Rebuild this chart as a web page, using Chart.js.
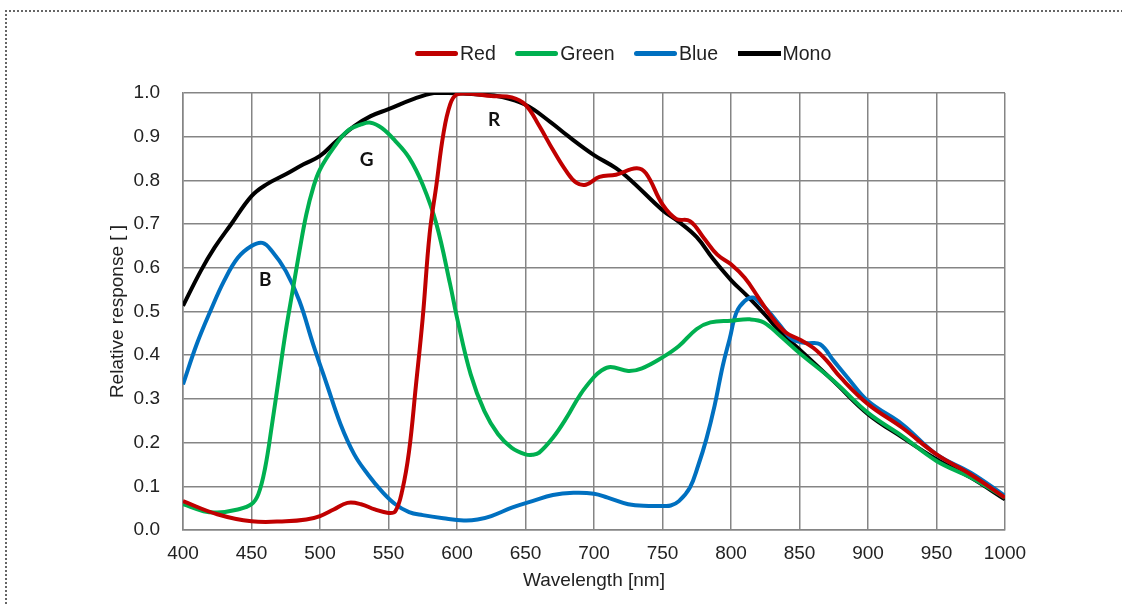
<!DOCTYPE html>
<html>
<head>
<meta charset="utf-8">
<script src="https://cdn.jsdelivr.net/npm/chart.js@4/dist/chart.umd.min.js"></script>
<style>
  html, body { margin: 0; padding: 0; background: #fff; }
  #wrap { position: relative; width: 1122px; height: 604px; overflow: hidden; }
  #frame { position: absolute; left: 5px; top: 10px; width: 1140px; height: 620px;
           border-left: 2px dotted #666; border-top: 2px dotted #666; }
  #legend { position: absolute; left: 415px; top: 42px; display: flex; gap: 19.5px;
            font: 19.5px "Liberation Sans", Arial, sans-serif; color: #222; }
  .item { display: flex; align-items: center; }
  .sw { width: 43px; height: 5px; margin-right: 2px; border-radius: 3px; }
</style>
</head>
<body>
<div id="wrap">
  <div id="frame"></div>
  <canvas id="c"></canvas>
  <div id="legend"></div>
</div>
<script>
// Red
const redNm  = [400,425,450,475,490,500,510,520,530,540,550,555,560,565,570,575,580,585,590,595,600,610,625,640,650,660,670,680,687,694,704,716,731,738,750,760,770,780,790,800,810,820,830,840,850,860,870,880,900,925,950,975,1000];
const redVal = [.066,.036,.02,.02,.024,.032,.047,.062,.059,.047,.039,.043,.09,.18,.33,.486,.677,.79,.905,.974,.997,.998,.993,.99,.973,.925,.87,.82,.795,.79,.808,.813,.828,.816,.745,.712,.707,.669,.63,.608,.577,.532,.486,.452,.436,.417,.387,.349,.288,.234,.173,.127,.074];
// Green
const greenNm  = [400,415,425,440,450,455,460,465,470,475,480,485,490,495,500,510,520,530,537,545,555,565,575,585,595,600,610,620,630,640,650,655,660,670,680,690,700,705,712,725,735,750,762,775,785,800,814,824,836,850,875,900,925,950,975,1000];
const greenVal = [.059,.043,.04,.047,.059,.082,.143,.242,.349,.455,.547,.638,.722,.783,.825,.875,.913,.928,.932,.92,.89,.852,.79,.70,.562,.486,.356,.272,.219,.188,.173,.172,.177,.211,.257,.31,.35,.364,.373,.364,.37,.395,.421,.46,.475,.479,.482,.475,.444,.405,.341,.268,.215,.158,.12,.074];
// Blue
const blueNm  = [400,410,420,430,440,450,458,465,475,485,495,505,515,525,535,545,555,565,575,590,605,615,625,640,655,670,685,700,710,725,740,750,756,762,770,776,782,788,794,799,804,810,816,822,828,835,845,855,865,875,885,900,925,950,975,1000];
const blueVal = [.333,.425,.501,.57,.623,.65,.657,.638,.593,.524,.425,.333,.242,.173,.127,.089,.059,.041,.034,.027,.022,.024,.032,.051,.066,.08,.085,.083,.074,.059,.055,.055,.056,.066,.097,.147,.208,.284,.376,.437,.498,.524,.532,.517,.498,.471,.436,.428,.425,.387,.349,.295,.242,.173,.131,.078];
// Mono
const monoNm  = [400,413,423,435,450,461,475,488,500,512,525,537,550,568,583,593,604,618,631,650,668,680,700,716,728,750,762,775,787,800,812,825,837,850,875,900,925,950,975,1000];
const monoVal = [.513,.593,.646,.699,.764,.791,.814,.837,.856,.89,.924,.947,.963,.986,1.0,1.0,.999,.996,.992,.973,.934,.904,.858,.828,.797,.732,.705,.67,.62,.572,.535,.492,.45,.413,.34,.265,.212,.162,.12,.07];

const seriesNames  = ['Red', 'Green', 'Blue', 'Mono'];
const seriesColors = ['#c00000', '#00b050', '#0070c0', '#000000'];

// curve labels inside plot (text, wavelength, response)
const curveLabels = [['B', 460, 0.572], ['G', 534, 0.847], ['R', 627, 0.938]];

const pts = (xs, ys) => xs.map((x, i) => ({ x, y: ys[i] }));
const seriesData = [pts(redNm, redVal), pts(greenNm, greenVal), pts(blueNm, blueVal), pts(monoNm, monoVal)];

// legend
const leg = document.getElementById('legend');
seriesNames.forEach((n, i) => {
  leg.insertAdjacentHTML('beforeend',
    `<div class="item"><div class="sw" style="background:${seriesColors[i]};${i === 3 ? 'border-radius:0' : ''}"></div><span>${n}</span></div>`);
});

const labelPlugin = {
  id: 'curveLabels',
  afterDatasetsDraw(chart) {
    const { ctx, scales: { x, y } } = chart;
    ctx.save();
    ctx.font = 'bold 19px Lato, sans-serif';
    ctx.fillStyle = '#111';
    ctx.textAlign = 'center';
    ctx.textBaseline = 'middle';
    curveLabels.forEach(([t, nm, v]) => ctx.fillText(t, x.getPixelForValue(nm), y.getPixelForValue(v)));
    ctx.restore();
  }
};

const font = { family: '"Liberation Sans", Arial, sans-serif', size: 19 };
const gridCol = '#858585';

new Chart(document.getElementById('c'), {
  type: 'line',
  data: {
    datasets: seriesNames.map((n, i) => ({
      label: n,
      data: seriesData[i],
      borderColor: seriesColors[i],
      backgroundColor: seriesColors[i],
      borderWidth: 4,
      pointRadius: 0,
      tension: 0.4,
      fill: false
    }))
  },
  options: {
    responsive: true,
    maintainAspectRatio: false,
    animation: false,
    layout: { padding: { left: 102, right: 117, top: 93, bottom: 10.8 } },
    plugins: { legend: { display: false }, tooltip: { enabled: false } },
    scales: {
      x: {
        type: 'linear', min: 400, max: 1000,
        afterFit: s => { s.height = 63.2; },
        ticks: { stepSize: 50, color: '#222', font, padding: 12, maxRotation: 0, callback: v => String(v) },
        grid: { color: gridCol, lineWidth: 1.5, drawTicks: false },
        border: { color: gridCol, width: 1.5 },
        title: { display: true, text: 'Wavelength [nm]', color: '#222', font, padding: { top: 7, bottom: 1 } }
      },
      y: {
        min: 0, max: 1,
        afterFit: s => { s.width = 81; },
        ticks: { stepSize: 0.1, color: '#222', font, padding: 23, callback: v => v.toFixed(1) },
        grid: { color: gridCol, lineWidth: 1.5, drawTicks: false },
        border: { color: gridCol, width: 1.5 },
        title: { display: true, text: 'Relative response [ ]', color: '#222', font, padding: 4 }
      }
    }
  },
  plugins: [labelPlugin]
});
</script>
</body>
</html>
